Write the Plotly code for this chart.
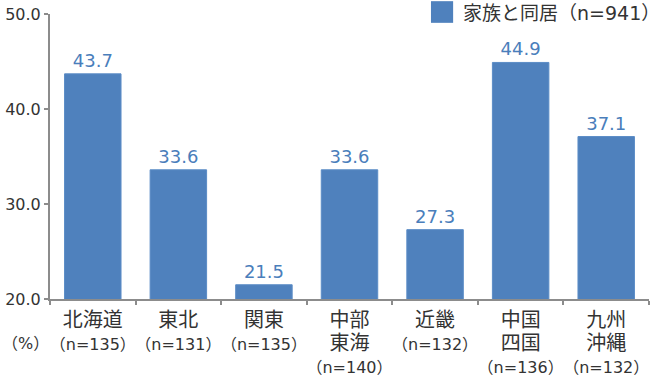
import plotly.graph_objects as go

region_names = ["北海道", "東北", "関東", "中部<br>東海", "近畿", "中国<br>四国", "九州<br>沖縄"]
sample_sizes = ["（n=135）", "（n=131）", "（n=135）", "（n=140）", "（n=132）", "（n=136）", "（n=132）"]
values = [43.7, 33.6, 21.5, 33.6, 27.3, 44.9, 37.1]
series_name = "家族と同居（n=941）"
y_ticks = [20, 30, 40, 50]

categories = [f"{r}<br>{n}" for r, n in zip(region_names, sample_sizes)]
ticktext = [f"<span style='font-size:20px'>{r}</span><br><span style='font-size:16px'>{n}</span>"
            for r, n in zip(region_names, sample_sizes)]

FONT = "DejaVu Sans, Noto Sans CJK JP, sans-serif"
BLUE = "#4F81BD"
TXT = "#333333"
AX = "#8c8c8c"

fig = go.Figure(go.Bar(
    x=categories, y=values, name=series_name,
    marker=dict(color=BLUE, line=dict(color="#5b8cc6", width=1)),
    text=[f"{v:.1f}" for v in values], textposition="outside",
    textfont=dict(family=FONT, size=18, color="#4a7ebb"),
    cliponaxis=False, showlegend=False,
))

fig.update_layout(
    width=666, height=376,
    margin=dict(l=50, r=17, t=14, b=77),
    paper_bgcolor="white", plot_bgcolor="white",
    bargap=0.34,
    font=dict(family=FONT, color=TXT, size=16),
    xaxis=dict(showline=True, linecolor=AX, linewidth=2, ticks="outside", tickson="boundaries",
               ticklen=4, tickcolor=AX, tickwidth=1.5, showgrid=False, tickangle=0,
               automargin=False, tickmode="array", tickvals=categories, ticktext=ticktext,
               ticklabelstandoff=4,
               tickfont=dict(family=FONT, size=18, color=TXT)),
    yaxis=dict(range=[20, 50], tickvals=y_ticks, tickformat=".1f", showline=True, linecolor=AX,
               linewidth=2, ticks="outside", ticklen=4, tickcolor=AX, tickwidth=1.5,
               showgrid=False, zeroline=False, automargin=False,
               tickfont=dict(family=FONT, size=16, color=TXT)),
)

# legend
fig.add_shape(type="rect", xref="paper", yref="paper", x0=0.636, x1=0.673, y0=0.969, y1=1.045,
              fillcolor=BLUE, line=dict(width=0))
fig.add_annotation(text=series_name, xref="paper", yref="paper", x=0.686, y=1.004,
                   xanchor="left", yanchor="middle", showarrow=False,
                   font=dict(family=FONT, size=19, color=TXT))
fig.add_annotation(text="（%）", xref="paper", yref="paper", x=-0.083, y=-0.155,
                   xanchor="left", yanchor="middle", showarrow=False,
                   font=dict(family=FONT, size=16, color=TXT))

fig.write_html("out.html", post_script="document.body.style.margin='0';",
               config={"displayModeBar": False})
